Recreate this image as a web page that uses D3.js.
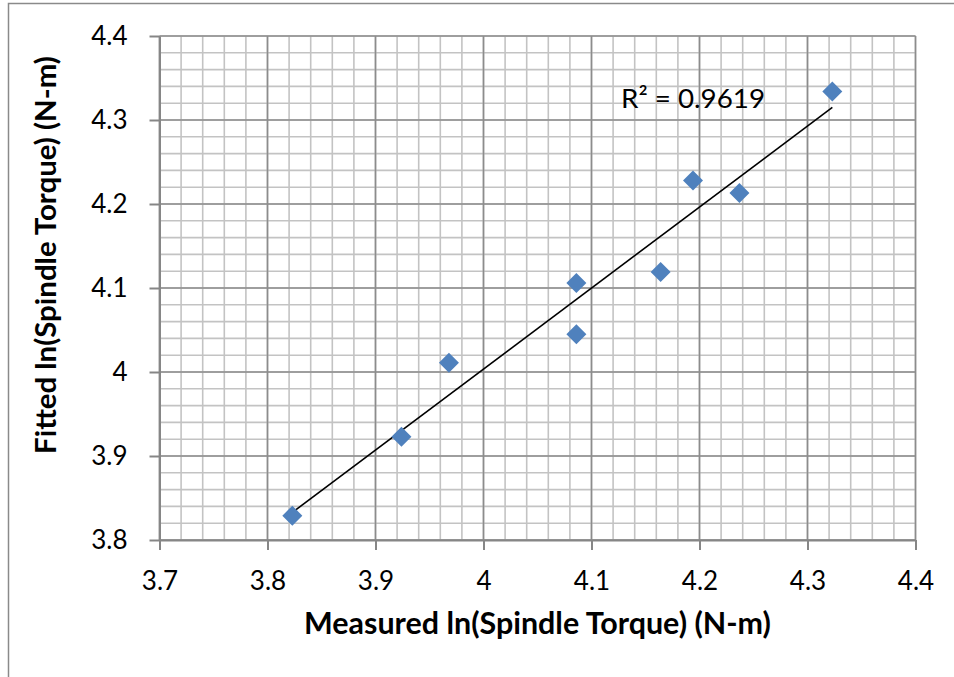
<!DOCTYPE html>
<html>
<head>
<meta charset="utf-8">
<script src="https://cdn.jsdelivr.net/npm/d3@7"></script>
<style>
  html, body { margin: 0; padding: 0; background: #fff; }
  svg { display: block; }
  text { font-family: Lato, "Open Sans", sans-serif; fill: #000; }
</style>
</head>
<body>
<svg id="chart" width="954" height="677"></svg>
<script>
// ---- data ----
const measured = [3.823, 3.924, 3.968, 4.086, 4.086, 4.164, 4.194, 4.237, 4.323];
const fitted   = [3.829, 3.923, 4.011, 4.106, 4.045, 4.119, 4.228, 4.213, 4.334];
const xTicks = [3.7, 3.8, 3.9, 4.0, 4.1, 4.2, 4.3, 4.4];
const yTicks = [3.8, 3.9, 4.0, 4.1, 4.2, 4.3, 4.4];
const xTickLabels = ["3.7", "3.8", "3.9", "4", "4.1", "4.2", "4.3", "4.4"];
const yTickLabels = ["3.8", "3.9", "4", "4.1", "4.2", "4.3", "4.4"];
const minorStep = 0.02;
const r2Label = "R\u00B2 = 0.9619";
const xTitle = "Measured ln(Spindle Torque) (N-m)";
const yTitle = "Fitted ln(Spindle Torque) (N-m)";

// ---- layout ----
const svg = d3.select("#chart");
const L = 159.5, R = 915.5, T = 36, B = 540;
const x = d3.scaleLinear().domain([3.7, 4.4]).range([L, R]);
const y = d3.scaleLinear().domain([3.8, 4.4]).range([B, T]);

function fitWidth(sel, target) {
  const fs = parseFloat(sel.attr("font-size"));
  const w = sel.node().getComputedTextLength();
  if (w > 0) sel.attr("font-size", (fs * target / w).toFixed(2));
}

// outer frame
svg.append("rect").attr("x", 8.5).attr("y", 3.5).attr("width", 980).attr("height", 700)
  .attr("fill", "none").attr("stroke", "#8a8a8a").attr("stroke-width", 1.5);

// minor grid
const xMinor = d3.range(0, 36).map(i => 3.7 + i * minorStep).filter(v => v < 4.4 + 1e-9);
const yMinor = d3.range(0, 31).map(i => 3.8 + i * minorStep).filter(v => v < 4.4 + 1e-9);
const g = svg.append("g");
g.selectAll(".vmin").data(xMinor).join("line")
  .attr("x1", d => x(d)).attr("x2", d => x(d)).attr("y1", T).attr("y2", B)
  .attr("stroke", "#c3c3c3").attr("stroke-width", 1.6);
g.selectAll(".hmin").data(yMinor).join("line")
  .attr("y1", d => y(d)).attr("y2", d => y(d)).attr("x1", L).attr("x2", R)
  .attr("stroke", "#c3c3c3").attr("stroke-width", 1.6);
// major grid
g.selectAll(".vmaj").data(xTicks).join("line")
  .attr("x1", d => x(d)).attr("x2", d => x(d)).attr("y1", T).attr("y2", B)
  .attr("stroke", "#8c8c8c").attr("stroke-width", 1.6);
g.selectAll(".hmaj").data(yTicks).join("line")
  .attr("y1", d => y(d)).attr("y2", d => y(d)).attr("x1", L).attr("x2", R)
  .attr("stroke", "#8c8c8c").attr("stroke-width", 1.6);

// axes
const xAxis = d3.axisBottom(x).tickValues(xTicks).tickSize(10).tickSizeOuter(0)
  .tickFormat((d, i) => xTickLabels[i]).tickPadding(22);
const yAxis = d3.axisLeft(y).tickValues(yTicks).tickSize(10).tickSizeOuter(0)
  .tickFormat((d, i) => yTickLabels[i]).tickPadding(22);
const gx = svg.append("g").attr("transform", `translate(0,${B})`).call(xAxis);
const gy = svg.append("g").attr("transform", `translate(${L},0)`).call(yAxis);
[gx, gy].forEach(a => {
  a.select(".domain").attr("stroke", "#868686").attr("stroke-width", 2);
  a.selectAll(".tick line").attr("stroke", "#868686").attr("stroke-width", 2);
  a.selectAll(".tick text").attr("font-family", "Lato, sans-serif").attr("font-size", 26).attr("fill", "#000");
});

// regression trendline
const n = measured.length;
const mx = d3.mean(measured), my = d3.mean(fitted);
let sxy = 0, sxx = 0;
for (let i = 0; i < n; i++) { sxy += (measured[i] - mx) * (fitted[i] - my); sxx += (measured[i] - mx) ** 2; }
const slope = sxy / sxx, icpt = my - slope * mx;
const x0 = d3.min(measured), x1 = d3.max(measured);
svg.append("line")
  .attr("x1", x(x0)).attr("y1", y(icpt + slope * x0))
  .attr("x2", x(x1)).attr("y2", y(icpt + slope * x1))
  .attr("stroke", "#000").attr("stroke-width", 1.6);

// markers
const hs = 10;
svg.selectAll(".pt").data(measured.map((m, i) => [m, fitted[i]])).join("path")
  .attr("d", d => {
    const cx = x(d[0]), cy = y(d[1]);
    return `M${cx},${cy - hs}L${cx + hs},${cy}L${cx},${cy + hs}L${cx - hs},${cy}Z`;
  })
  .attr("fill", "#4F81BD");

// R² label
const r2 = svg.append("text").attr("x", 621).attr("y", 108).attr("font-size", 26).text(r2Label);
fitWidth(r2, 144);

// axis titles
const xt = svg.append("text").attr("x", (L + R) / 2).attr("y", 634).attr("text-anchor", "middle")
  .attr("font-family", "'Open Sans', sans-serif")
  .attr("font-weight", "bold").attr("font-size", 24).text(xTitle);
fitWidth(xt, 467);
const yt = svg.append("text").attr("transform", "translate(56,255) rotate(-90)").attr("text-anchor", "middle")
  .attr("font-family", "'Open Sans', sans-serif")
  .attr("font-weight", "bold").attr("font-size", 22).text(yTitle);
fitWidth(yt, 398);
</script>
</body>
</html>
